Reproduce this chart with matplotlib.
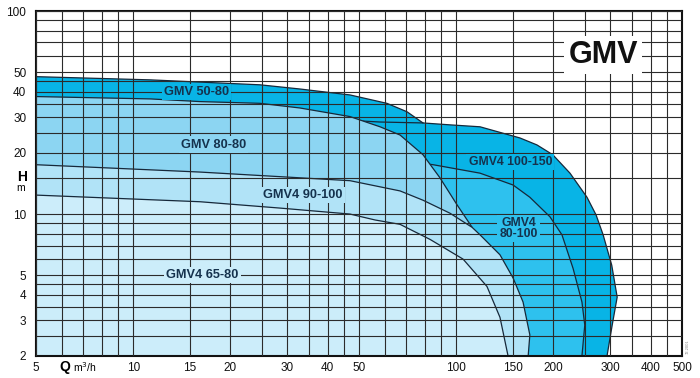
import matplotlib.pyplot as plt

plt.rcParams['font.family'] = ['Liberation Sans', 'DejaVu Sans']

# grid and tick values (log-log chart)
q_grid = [5, 6, 7, 8, 9, 10, 15, 20, 25, 30, 35, 40, 45, 50, 60, 70, 80, 90,
          100, 150, 200, 250, 300, 350, 400, 450, 500]
q_labeled = [5, 10, 15, 20, 30, 40, 50, 100, 150, 200, 300, 400, 500]
h_grid = [2, 2.5, 3, 3.5, 4, 4.5, 5, 6, 7, 8, 9, 10, 15, 20, 25, 30, 35, 40,
          45, 50, 60, 70, 80, 90, 100]
h_labeled = [2, 3, 4, 5, 10, 20, 30, 40, 50, 100]

# pump curves, Q in m3/h, H in m
q_50_80 = [5, 11.3, 24.7, 32.8, 46.9, 61, 70.4, 78.9]
h_50_80 = [47.5, 45.8, 43.3, 41.3, 38.6, 35.1, 31.9, 28.1]

q_100_150 = [49.3, 58.1, 78.9, 95.6, 118.5, 157.5, 177.8, 199, 225, 254, 271,
             285, 303, 315, 304, 293]
h_100_150 = [28.8, 28.4, 28.1, 27.5, 26.9, 23.7, 21.9, 19.6, 15.9, 12.1, 9.9,
             7.9, 5.6, 3.9, 2.84, 2]

q_80_100 = [58.1, 84.8, 118.5, 150, 169, 195, 212.5, 230, 245, 250, 245]
h_80_100 = [18.9, 17.5, 15.9, 13.9, 12.1, 9.7, 7.9, 5.4, 3.69, 2.84, 2]

q_80_80 = [5, 11.3, 16.1, 24.7, 32.8, 46.9, 58.1, 67, 78.9, 89, 100.6, 112]
h_80_80 = [37.9, 36.9, 35.8, 35.1, 33.3, 30.2, 26.9, 24.5, 19.6, 15.1, 11.1, 8.6]

q_90_100 = [5, 16.1, 46.9, 67, 78.9, 95.6, 112, 118.5, 136.6, 150, 161, 169, 167]
h_90_100 = [17.5, 16.1, 14.6, 13.0, 11.7, 10.1, 8.6, 7.9, 6.3, 4.84, 3.69, 2.54, 2]

q_65_80 = [5, 16.1, 28.5, 46.9, 56.1, 67, 83, 105, 124.5, 136.6, 144.7]
h_65_80 = [12.4, 11.5, 10.7, 10.0, 9.35, 8.9, 7.5, 6.0, 4.4, 3.1, 2]

c_dark = '#08b4e6'
c_80_100 = '#2ec1ee'
c_80_80 = '#8cd5f2'
c_90_100 = '#b1e3f7'
c_65_80 = '#ccedfa'
line_col = '#16283a'
text_col = '#15324d'
H_MIN = 2


def add_area(axe, q, h, color, draw_line=True):
    # fill from the curve down to the bottom of the chart
    xs = list(q) + [q[-1], q[0]]
    ys = list(h) + [H_MIN, H_MIN]
    axe.fill(xs, ys, color=color, lw=0, zorder=1)
    if draw_line:
        axe.plot(q, h, color=line_col, lw=0.9, zorder=1)


fig = plt.figure(figsize=(7, 3.78), dpi=100)
ax = fig.add_axes([36 / 700, 22 / 378, 646 / 700, 345 / 378])
ax.set_xscale('log')
ax.set_yscale('log')
ax.set_xlim(5, 500)
ax.set_ylim(2, 100)

# back to front
add_area(ax, q_50_80, h_50_80, c_dark, draw_line=False)
add_area(ax, q_100_150, h_100_150, c_dark)
ax.plot(q_50_80, h_50_80, color=line_col, lw=0.9, zorder=1)
add_area(ax, q_80_100, h_80_100, c_80_100)
add_area(ax, q_80_80, h_80_80, c_80_80)
add_area(ax, q_90_100, h_90_100, c_90_100)
add_area(ax, q_65_80, h_65_80, c_65_80)

ax.set_xticks(q_grid, labels=[str(q) if q in q_labeled else '' for q in q_grid])
ax.set_yticks(h_grid, labels=['%g' % h if h in h_labeled else '' for h in h_grid])
ax.minorticks_off()
ax.tick_params(axis='both', length=0, labelsize=8.5, colors='#111111')
ax.tick_params(axis='y', pad=7)
ax.tick_params(axis='x', pad=4)
ax.set_axisbelow(False)
ax.grid(True, which='major', color='#2b2b2b', lw=0.8)
for s in ax.spines.values():
    s.set_linewidth(1.5)
    s.set_color('#111111')

lab = dict(fontsize=9.2, fontweight='bold', color=text_col, ha='center',
           va='center', zorder=4)
ax.text(15.7, 40, 'GMV 50-80', bbox=dict(fc=c_dark, ec='none', pad=1.5), **lab)
ax.text(17.7, 22.0, 'GMV 80-80', bbox=dict(fc=c_80_80, ec='none', pad=1.5), **lab)
ax.text(33.5, 12.4, 'GMV4 90-100', bbox=dict(fc=c_90_100, ec='none', pad=1.5), **lab)
ax.text(16.4, 5.0, 'GMV4 65-80', bbox=dict(fc=c_65_80, ec='none', pad=1.5), **lab)
lab['fontsize'] = 8.8
ax.text(147, 18.1, 'GMV4 100-150', bbox=dict(fc=c_dark, ec='none', pad=1.5), **lab)
ax.text(156, 8.5, 'GMV4\n80-100', linespacing=0.95,
        bbox=dict(fc=c_80_100, ec='none', pad=1.5), **lab)

ax.text(0.878, 0.872, 'GMV', transform=ax.transAxes, fontsize=22,
        fontweight='bold', color='#111111', ha='center', va='center', zorder=4,
        bbox=dict(fc='white', ec='none', pad=3))

# axis titles
fig.text(22 / 700, 1 - 177 / 378, 'H', fontsize=10, fontweight='bold',
         ha='center', va='center')
fig.text(21 / 700, 1 - 188 / 378, 'm', fontsize=7.5, ha='center', va='center')
fig.text(65 / 700, 1 - 367 / 378, 'Q', fontsize=10, fontweight='bold',
         ha='center', va='center')
fig.text(85 / 700, 1 - 367 / 378, 'm$^3$/h', fontsize=7.5, ha='center', va='center')
fig.text(688 / 700, 1 - 347 / 378, '72.2001', fontsize=3, color='#888888',
         rotation=90, ha='center', va='center')

fig.savefig('out.png', dpi=100)
